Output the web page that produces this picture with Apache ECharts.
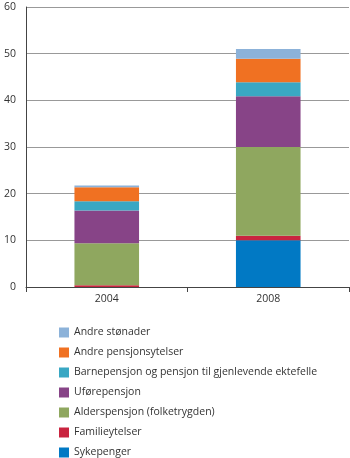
<!DOCTYPE html>
<html lang="no">
<head>
    <meta charset="utf-8">
    <title>Stønader</title>
    <script src="https://cdn.jsdelivr.net/npm/echarts@6/dist/echarts.min.js"></script>
    <style>
        html, body { margin: 0; padding: 0; background: #fff; }
        #container { width: 350px; height: 458px; }
    </style>
</head>
<body>
<div id="container"></div>
<script>
    // data
    var years = ['2004', '2008'];
    var sykepenger = [0, 10.0];
    var familieytelser = [0.4, 1.0];
    var alderspensjon = [9.0, 19.0];
    var uforepensjon = [7.0, 10.9];
    var barnepensjon = [2.0, 3.0];
    var andrePensjon = [3.0, 5.0];
    var andreStonader = [0.35, 2.1];
    var yTicks = [0, 10, 20, 30, 40, 50, 60];

    var names = ['Sykepenger', 'Familieytelser', 'Alderspensjon (folketrygden)', 'Uførepensjon',
        'Barnepensjon og pensjon til gjenlevende ektefelle', 'Andre pensjonsytelser', 'Andre stønader'];
    var values = [sykepenger, familieytelser, alderspensjon, uforepensjon, barnepensjon, andrePensjon, andreStonader];
    var colors = ['#0179c4', '#c9243f', '#8fa75f', '#874487', '#39a7c3', '#f07122', '#8cb2d9'];

    var myChart = echarts.init(document.getElementById('container'));
    var series = [];
    for (var i = 0; i < names.length; i++) {
        series.push({
            name: names[i],
            type: 'bar',
            stack: 'total',
            barWidth: '40%',
            data: values[i],
            itemStyle: {color: colors[i]}
        });
    }

    var option = {
        animation: false,
        textStyle: {fontFamily: 'Open Sans'},
        color: colors,
        grid: {left: 26, right: 1, top: 7, bottom: 171},
        legend: {
            orient: 'vertical',
            left: 59,
            top: 327,
            height: 140,
            padding: 0,
            itemWidth: 10,
            itemHeight: 10,
            itemGap: 9,
            icon: 'rect',
            data: names.slice().reverse(),
            textStyle: {fontSize: 10.5, color: '#333', fontFamily: 'Open Sans'}
        },
        xAxis: {
            type: 'category',
            data: years,
            axisLine: {lineStyle: {color: '#444', width: 1}},
            axisTick: {show: true, length: 5, lineStyle: {color: '#444'}},
            axisLabel: {fontSize: 10.5, color: '#333', margin: 7}
        },
        yAxis: {
            type: 'value',
            min: yTicks[0],
            max: yTicks[yTicks.length - 1],
            interval: 10,
            axisLine: {show: true, lineStyle: {color: '#444', width: 1}},
            axisTick: {show: false},
            axisLabel: {fontSize: 10.5, color: '#333', margin: 10},
            splitLine: {lineStyle: {color: '#999', width: 1}}
        },
        series: series
    };
    myChart.setOption(option);
</script>
</body>
</html>
